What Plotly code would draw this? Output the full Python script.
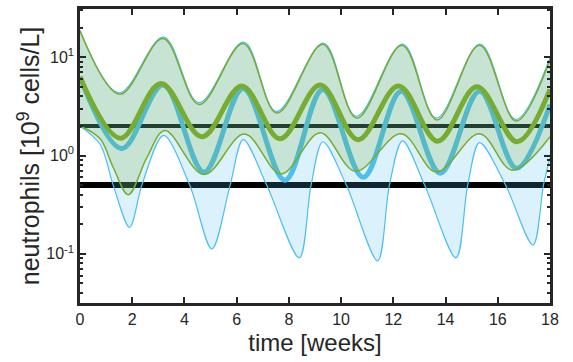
import plotly.graph_objects as go

# ---- data (weeks, 10^9 cells/L) ----
t_green_upper = [0, 1.53, 3.18, 4.56, 6.25, 7.54, 9.3, 10.6, 12.33, 13.67, 15.3, 16.7, 18]
green_upper = [18.6, 4.2, 15.5, 3.3, 13.8, 2.7, 13.5, 2.4, 13.2, 2.3, 13.2, 2.24, 9.5]

t_blue_upper = [0, 1.5, 3.2, 4.55, 6.27, 7.52, 9.32, 10.58, 12.35, 13.65, 15.32, 16.68, 18]
blue_upper = [18.8, 4.35, 16.0, 3.45, 14.2, 2.8, 13.9, 2.5, 13.6, 2.4, 13.6, 2.33, 9.9]

t_green_med = [0, 1.55, 3.1, 4.67, 6.2, 7.66, 9.2, 10.65, 12.2, 13.7, 15.2, 16.74, 18]
green_med = [6.3, 1.5, 5.4, 1.55, 5.1, 1.48, 5.2, 1.45, 5.1, 1.4, 5.0, 1.38, 4.7]

t_blue_med = [0, 1.6, 3.18, 4.75, 6.25, 7.85, 9.3, 10.85, 12.3, 13.8, 15.3, 16.72, 18]
blue_med = [6.3, 1.18, 5.2, 0.68, 4.8, 0.56, 4.7, 0.6, 4.5, 0.66, 4.5, 0.74, 3.3]

t_green_low = [0, 0.77, 1.27, 1.85, 2.56, 3.25, 4.75, 6.3, 7.7, 9.2, 10.55, 12.3, 13.65, 15.3, 16.55, 18]
green_low = [2.0, 1.48, 0.76, 0.4, 0.95, 1.8, 0.64, 1.65, 0.65, 1.7, 0.69, 1.66, 0.68, 1.66, 0.71, 1.55]

t_blue_low = [0, 0.77, 1.27, 1.9, 2.37, 3.2, 4.2, 5.05, 5.75, 6.25, 7.15, 8.4, 8.85, 9.3, 10.2, 11.4,
              11.85, 12.35, 13.2, 14.4, 14.85, 15.3, 16.3, 17.35, 17.75, 18]
blue_low = [2.0, 1.3, 0.5, 0.186, 0.5, 1.6, 0.5, 0.112, 0.5, 1.45, 0.5, 0.091, 0.5, 1.38, 0.5, 0.085,
            0.5, 1.41, 0.5, 0.091, 0.5, 1.35, 0.5, 0.123, 0.5, 0.95]

threshold_high = 2.0
threshold_low = 0.5

x_ticks = list(range(0, 19, 2))
y_tickvals = [0.1, 1, 10]
y_ticktext = ["10<sup>-1</sup>", "10<sup>0</sup>", "10<sup>1</sup>"]
y_minor = [0.04, 0.05, 0.06, 0.07, 0.08, 0.09, 0.2, 0.3, 0.4, 0.5, 0.6, 0.7, 0.8, 0.9,
           2, 3, 4, 5, 6, 7, 8, 9, 20, 30]

BLUE = "rgb(77,190,238)"
GREEN = "rgb(119,172,48)"
BLUE_FILL = "rgba(77,190,238,0.2)"
GREEN_FILL = "rgba(119,172,48,0.2)"
FONT = "Liberation Sans, Arial, Helvetica, sans-serif"
INK = "#262626"

fig = go.Figure()

# threshold lines (drawn first, under the fills)
fig.add_trace(go.Scatter(x=[0, 18], y=[threshold_high] * 2, mode="lines",
                         line=dict(color="black", width=4), showlegend=False))
fig.add_trace(go.Scatter(x=[0, 18], y=[threshold_low] * 2, mode="lines",
                         line=dict(color="black", width=6), showlegend=False))

# blue band
fig.add_trace(go.Scatter(x=t_blue_low, y=blue_low, mode="lines",
                         line=dict(color=BLUE, width=1.2, shape="spline", smoothing=0.9),
                         showlegend=False))
fig.add_trace(go.Scatter(x=t_blue_upper, y=blue_upper, mode="lines", fill="tonexty",
                         fillcolor=BLUE_FILL,
                         line=dict(color=BLUE, width=1.2, shape="spline", smoothing=1),
                         showlegend=False))
fig.add_trace(go.Scatter(x=t_blue_med, y=blue_med, mode="lines",
                         line=dict(color=BLUE, width=5, shape="spline", smoothing=1),
                         showlegend=False))

# green band
fig.add_trace(go.Scatter(x=t_green_low, y=green_low, mode="lines",
                         line=dict(color=GREEN, width=1.5, shape="spline", smoothing=1),
                         showlegend=False))
fig.add_trace(go.Scatter(x=t_green_upper, y=green_upper, mode="lines", fill="tonexty",
                         fillcolor=GREEN_FILL,
                         line=dict(color=GREEN, width=1.5, shape="spline", smoothing=1),
                         showlegend=False))
fig.add_trace(go.Scatter(x=t_green_med, y=green_med, mode="lines",
                         line=dict(color=GREEN, width=5, shape="spline", smoothing=1),
                         showlegend=False))

axis_common = dict(showline=True, linecolor=INK, linewidth=2.5, mirror="ticks",
                   ticks="inside", tickcolor=INK, tickwidth=2, ticklen=6,
                   showgrid=False, zeroline=False,
                   tickfont=dict(family=FONT, size=16, color=INK))

fig.update_xaxes(range=[0, 18], tickvals=x_ticks,
                 title=dict(text="time [weeks]", font=dict(family=FONT, size=24, color=INK),
                            standoff=8),
                 **axis_common)
fig.update_yaxes(type="log", range=[-1.5, 1.49], tickvals=y_tickvals, ticktext=y_ticktext,
                 minor=dict(ticks="inside", tickvals=y_minor, ticklen=3.5, tickcolor=INK,
                            tickwidth=1.5, showgrid=False),
                 title=dict(text="neutrophils [10<sup>9</sup> cells/L]",
                            font=dict(family=FONT, size=25, color=INK), standoff=0),
                 **axis_common)

fig.update_layout(width=573, height=362, margin=dict(l=80, r=23, t=6, b=59),
                  paper_bgcolor="white", plot_bgcolor="white", showlegend=False)

fig.write_html("out.html")
